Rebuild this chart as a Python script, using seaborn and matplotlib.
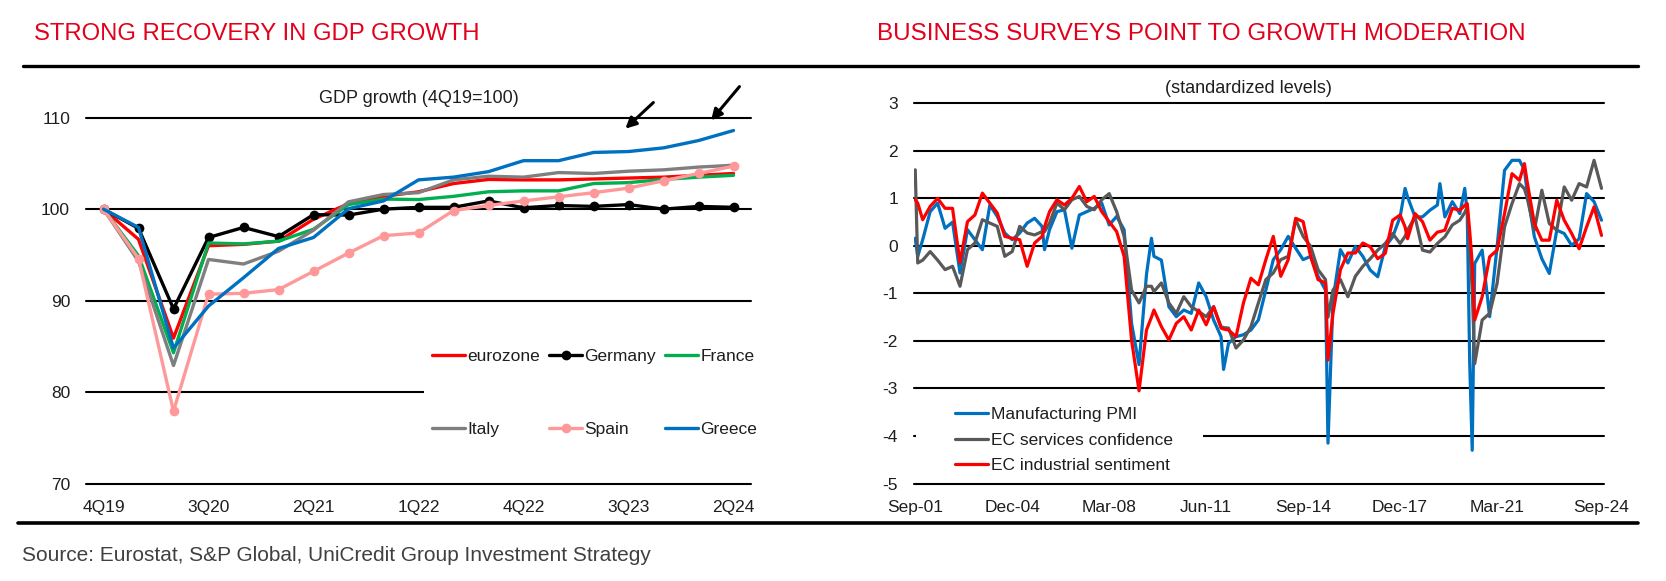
import numpy as np
import pandas as pd
import matplotlib
matplotlib.use('Agg')
import matplotlib.pyplot as plt
from matplotlib import font_manager
from matplotlib.lines import Line2D
from matplotlib.patches import Rectangle
from matplotlib.transforms import ScaledTranslation
import seaborn as sns

# --- DATOS: panel izquierdo, PIB (4Q19=100) ---
quarters = ['4Q19', '1Q20', '2Q20', '3Q20', '4Q20', '1Q21', '2Q21', '3Q21', '4Q21',
            '1Q22', '2Q22', '3Q22', '4Q22', '1Q23', '2Q23', '3Q23', '4Q23', '1Q24', '2Q24']
eurozone = [100, 96.7, 85.9, 96.0, 96.15, 96.5, 98.9, 100.6, 101.4, 101.9, 102.8,
            103.25, 103.2, 103.2, 103.3, 103.4, 103.5, 103.7, 103.9]
germany = [100, 97.9, 89.1, 96.9, 98.0, 97.0, 99.4, 99.35, 100.0, 100.2, 100.2,
           100.9, 100.15, 100.4, 100.3, 100.5, 100.0, 100.3, 100.2]
france = [100, 94.9, 84.3, 96.3, 96.2, 96.5, 97.8, 100.5, 101.1, 101.05, 101.4,
          101.9, 102.0, 102.0, 102.8, 102.9, 103.25, 103.5, 103.7]
italy = [100, 94.3, 82.9, 94.5, 94.0, 95.4, 97.7, 100.8, 101.6, 101.8, 103.2,
         103.6, 103.5, 104.0, 103.9, 104.15, 104.3, 104.6, 104.8]
spain = [100, 94.6, 77.9, 90.7, 90.8, 91.2, 93.2, 95.2, 97.1, 97.4, 99.85,
         100.4, 100.9, 101.35, 101.8, 102.3, 103.1, 103.9, 104.7]
greece = [100, 98.0, 84.8, 89.4, 92.5, 95.7, 96.9, 100.05, 100.9, 103.2, 103.5,
          104.1, 105.3, 105.3, 106.2, 106.3, 106.7, 107.5, 108.6]

# --- DATOS: panel derecho, encuestas (niveles estandarizados) ---
# meses desde Sep-01
months = [0, 1, 3, 6, 9, 12, 15, 18, 21, 24, 27, 30, 33, 36, 39, 42, 45, 48, 51, 52,
          54, 57, 60, 63, 66, 69, 72, 75, 78, 81, 84, 87, 90, 93, 95, 96, 99, 102, 105,
          108, 111, 114, 117, 120, 123, 124, 126, 129, 132, 135, 138, 141, 144, 147,
          150, 153, 156, 159, 162, 165, 166, 168, 171, 174, 177, 180, 183, 186, 189,
          192, 195, 197, 198, 201, 204, 207, 210, 211, 213, 216, 219, 221, 222, 223,
          224, 225, 228, 231, 234, 237, 240, 243, 245, 246, 249, 252, 255, 258, 261,
          264, 267, 270, 273, 276]
pmi = [0.16, -0.22, 0.13, 0.72, 0.9, 0.37, 0.5, -0.57, 0.34, 0.13, -0.08, 0.86, 0.62,
       0.27, 0.13, 0.27, 0.48, 0.58, 0.41, -0.08, 0.34, 0.72, 0.76, -0.05, 0.65, 0.72,
       0.79, 0.9, 0.44, 0.62, 0.34, -1.63, -2.5, -0.6, 0.16, -0.22, -0.3, -1.28, -1.49,
       -1.35, -1.42, -0.78, -1.07, -1.56, -1.91, -2.6, -2.05, -1.91, -1.87, -1.77,
       -1.56, -0.93, -0.29, -0.08, 0.2, -0.05, -0.29, -0.22, -0.64, -0.93, -4.15,
       -1.14, -0.08, -0.36, -0.01, -0.22, -0.51, -0.65, -0.02, 0.19, 0.61, 1.21, 1.03,
       0.61, 0.61, 0.75, 0.86, 1.31, 0.61, 0.93, 0.68, 1.21, 0.68, -2.48, -4.3, -0.37,
       -0.09, -1.49, -0.02, 1.59, 1.8, 1.8, 1.6, 1.17, 0.19, -0.27, -0.58, 0.33, 0.26,
       0.01, 0.15, 1.1, 0.93, 0.54]
services = [1.6, -0.36, -0.3, -0.12, -0.3, -0.5, -0.43, -0.85, -0.08, 0.06, 0.55, 0.48,
            0.41, -0.22, -0.12, 0.41, 0.27, 0.23, 0.3, 0.3, 0.48, 0.9, 0.76, 0.97, 1.04,
            0.83, 0.76, 0.97, 1.1, 0.72, 0.2, -0.93, -1.2, -0.85, -0.85, -0.96, -0.78,
            -1.2, -1.42, -1.07, -1.28, -1.38, -1.49, -1.28, -1.7, -1.72, -1.73, -2.15,
            -1.98, -1.7, -1.2, -0.71, -0.57, -0.29, -0.22, 0.55, 0.2, -0.01, -0.5, -0.71,
            -1.5, -0.93, -0.71, -1.07, -0.64, -0.43, -0.27, -0.09, 0.05, 0.26, 0.05, 0.2,
            0.33, 0.61, -0.09, -0.13, 0.05, 0.1, 0.19, 0.44, 0.54, 0.7, 0.82, 0.0, -0.93,
            -2.48, -1.56, -1.42, -0.79, 0.4, 0.89, 1.31, 1.2, 1.03, 0.33, 1.17, 0.47,
            0.33, 1.24, 0.96, 1.31, 1.24, 1.8, 1.21]
industry = [0.97, 0.9, 0.55, 0.83, 1.0, 0.79, 0.79, -0.35, 0.51, 0.65, 1.11, 0.9, 0.69,
            0.2, 0.16, 0.13, -0.43, 0.06, 0.2, 0.4, 0.72, 0.97, 0.86, 1.0, 1.25, 0.93,
            1.04, 0.72, 0.51, 0.3, -0.22, -1.98, -3.05, -1.77, -1.5, -1.35, -1.7, -1.98,
            -1.63, -1.49, -1.77, -1.35, -1.66, -1.28, -1.73, -1.75, -1.77, -1.91, -1.2,
            -0.68, -0.82, -0.29, 0.2, -0.64, -0.29, 0.58, 0.51, -0.22, -0.71, -0.78, -2.4,
            -1.42, -0.5, -0.15, -0.15, 0.06, -0.02, -0.27, -0.16, 0.54, 0.65, 0.4, 0.15,
            0.68, 0.51, 0.12, 0.29, 0.3, 0.33, 0.79, 0.75, 0.85, 0.89, 0.3, -0.37, -1.56,
            -1.07, -0.23, -0.09, 0.68, 1.52, 1.38, 1.73, 1.38, 0.47, 0.12, 0.12, 0.96,
            0.54, 0.26, -0.06, 0.4, 0.82, 0.22]
date_ticks = [0, 39, 78, 117, 156, 195, 234, 276]
date_labels = ['Sep-01', 'Dec-04', 'Mar-08', 'Jun-11', 'Sep-14', 'Dec-17', 'Mar-21', 'Sep-24']

# --- ESTILO ---
sns.set_theme(style='white')
avail = {f.name for f in font_manager.fontManager.ttflist}
base_font = 'Liberation Sans Narrow' if 'Liberation Sans Narrow' in avail else 'Liberation Sans'
plt.rcParams['font.family'] = [base_font, 'DejaVu Sans']
plt.rcParams['axes.unicode_minus'] = False

RED_TITLE = '#E2001A'
TXT = '#1E1E1E'

W, H = 1666, 581
fig = plt.figure(figsize=(W / 100, H / 100), dpi=100)


def fx(px):
    return px / W


def fy(py):
    return 1 - py / H


ax1 = fig.add_axes([fx(86), fy(483.5), fx(751) - fx(86), fy(117.7) - fy(483.5)])
ax2 = fig.add_axes([fx(914), fy(483.5), fx(1604) - fx(914), fy(103.3) - fy(483.5)])

# --- PANEL IZQUIERDO ---
xq = np.arange(len(quarters))
left_series = [
    ('eurozone', eurozone, '#FF0000', None),
    ('Germany', germany, '#000000', 'o'),
    ('France', france, '#00B050', None),
    ('Italy', italy, '#7F7F7F', None),
    ('Spain', spain, '#FF9999', 'o'),
    ('Greece', greece, '#0070C0', None),
]
for name, vals, col, mk in left_series:
    sns.lineplot(x=xq, y=vals, ax=ax1, color=col, lw=2.4, marker=mk,
                 markersize=7, markeredgewidth=0, label=name)

ax1.set_xlim(-0.5, 18.5)
ax1.set_ylim(70, 110)
ax1.set_yticks([70, 80, 90, 100, 110])
ax1.set_xticks(xq[::3])
ax1.set_xticklabels(quarters[::3])

h, l = ax1.get_legend_handles_labels()
order = [0, 3, 1, 4, 2, 5]
ax1.legend([h[i] for i in order], [l[i] for i in order], ncol=3, frameon=False,
           loc='center left', bbox_to_anchor=(fx(432), fy(393)),
           bbox_transform=fig.transFigure, borderpad=0, borderaxespad=0,
           handlelength=1.9, handletextpad=0.15, columnspacing=0.5,
           labelspacing=3.3, fontsize=12.5, labelcolor=TXT)
ax1.add_patch(Rectangle((fx(424), fy(402)), fx(755) - fx(424), fy(382) - fy(402),
                        transform=fig.transFigure, facecolor='white', edgecolor='none',
                        zorder=1, clip_on=False))

# flechas
arrows = [((15.71, 111.66), (14.91, 108.8)), ((18.17, 113.4), (17.36, 109.7))]
for tail, head in arrows:
    ax1.annotate('', xy=head, xytext=tail, annotation_clip=False,
                 arrowprops=dict(arrowstyle='-|>', color='black', lw=2.2,
                                 mutation_scale=16, shrinkA=0, shrinkB=0))

# --- PANEL DERECHO ---
right_series = [
    ('Manufacturing PMI', pmi, '#0070C0'),
    ('EC services confidence', services, '#595959'),
    ('EC industrial sentiment', industry, '#FF0000'),
]
for name, vals, col in right_series:
    sns.lineplot(x=months, y=vals, ax=ax2, color=col, lw=2.3, label=name)

ax2.set_xlim(-0.5, 277)
ax2.set_ylim(-5, 3)
ax2.set_yticks(range(-5, 4))
ax2.set_xticks(date_ticks)
ax2.set_xticklabels(date_labels)
lab = ax2.get_xticklabels()[-1]
lab.set_transform(lab.get_transform() + ScaledTranslation(-0.17, 0, fig.dpi_scale_trans))

ax2.legend(frameon=False, loc='center left', bbox_to_anchor=(fx(955), fy(440)),
           bbox_transform=fig.transFigure, borderpad=0, borderaxespad=0,
           handlelength=1.9, handletextpad=0.15, labelspacing=0.58,
           fontsize=12.5, labelcolor=TXT)
ax2.add_patch(Rectangle((fx(916), fy(445)), fx(1203) - fx(916), fy(426) - fy(445),
                        transform=fig.transFigure, facecolor='white', edgecolor='none',
                        zorder=1, clip_on=False))

# ejes comunes
for ax in (ax1, ax2):
    for s in ax.spines.values():
        s.set_visible(False)
    ax.grid(axis='y', color='black', lw=1.5)
    ax.grid(axis='x', visible=False)
    for gl in ax.get_ygridlines():
        gl.set_clip_on(False)
    ax.tick_params(length=0, labelsize=12.5, labelcolor=TXT)
    ax.tick_params(axis='y', pad=11.5)
    ax.tick_params(axis='x', pad=12)
    ax.set_xlabel('')
    ax.set_ylabel('')
    ax.set_facecolor('none')

# --- TEXTOS Y REGLAS ---
fig.text(fx(34), fy(40), 'STRONG RECOVERY IN GDP GROWTH', color=RED_TITLE,
         fontsize=17.2, va='baseline', ha='left')
fig.text(fx(877), fy(40), 'BUSINESS SURVEYS POINT TO GROWTH MODERATION', color=RED_TITLE,
         fontsize=17.4, va='baseline', ha='left')
fig.text(fx(419), fy(103), 'GDP growth (4Q19=100)', color=TXT, fontsize=13,
         va='baseline', ha='center')
fig.text(fx(1248), fy(93), '(standardized levels)', color=TXT, fontsize=13,
         va='baseline', ha='center')
fig.text(fx(22), fy(561), 'Source: Eurostat, S&P Global, UniCredit Group Investment Strategy',
         color='#404040', fontsize=15, va='baseline', ha='left')

fig.add_artist(Line2D([fx(23), fx(1638)], [fy(65.5), fy(65.5)], color='black', lw=2.4))
fig.add_artist(Line2D([fx(18), fx(1638)], [fy(523), fy(523)], color='black', lw=2.6))

fig.savefig('out.png', dpi=100)
